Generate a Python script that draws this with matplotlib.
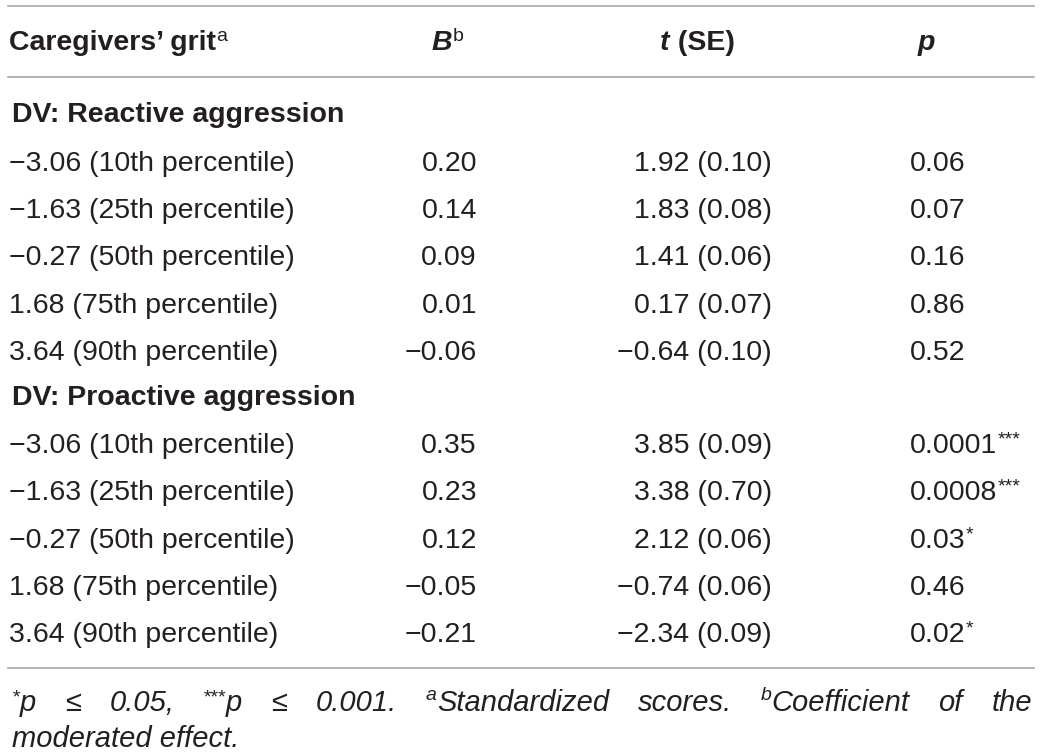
import matplotlib
matplotlib.use("Agg")
import matplotlib.pyplot as plt
from matplotlib.lines import Line2D

# ------------------------------------------------------------------
# Table data
# ------------------------------------------------------------------
grit_levels = [
    "−3.06 (10th percentile)",
    "−1.63 (25th percentile)",
    "−0.27 (50th percentile)",
    "1.68 (75th percentile)",
    "3.64 (90th percentile)",
]
sections = ["DV: Reactive aggression", "DV: Proactive aggression"]

reactive_b = [0.20, 0.14, 0.09, 0.01, -0.06]
reactive_t = [1.92, 1.83, 1.41, 0.17, -0.64]
reactive_se = [0.10, 0.08, 0.06, 0.07, 0.10]
reactive_p = ["0.06", "0.07", "0.16", "0.86", "0.52"]
reactive_sig = ["", "", "", "", ""]

proactive_b = [0.35, 0.23, 0.12, -0.05, -0.21]
proactive_t = [3.85, 3.38, 2.12, -0.74, -2.34]
proactive_se = [0.09, 0.70, 0.06, 0.06, 0.09]
proactive_p = ["0.0001", "0.0008", "0.03", "0.46", "0.02"]
proactive_sig = ["***", "***", "*", "", "*"]

W, H = 1040, 755
INK = "#231f20"
RULE = "#a6a6a6"

BODY = dict(family="Liberation Sans", size=20.5)
BOLD = dict(family="Liberation Sans", size=20.5, weight="bold")
BOLD_IT = dict(family="Liberation Sans", size=20.5, weight="bold", style="italic")
SUP = dict(family="Liberation Sans", size=14)
NOTE = dict(family=["Liberation Sans Narrow", "Liberation Sans"], size=21,
            style="italic")
NOTE_SUP = dict(family=["Liberation Sans Narrow", "Liberation Sans"], size=14,
                style="italic")

fig = plt.figure(figsize=(W / 100, H / 100), dpi=100)
renderer = fig.canvas.get_renderer()


def fmt(v):
    return f"{v:.2f}".replace("-", "−")


def make_runs(runs):
    items = []
    for s, style, rise in runs:
        t = fig.text(0, 0, s, va="baseline", ha="left", color=INK, **style)
        w = t.get_window_extent(renderer).width
        items.append((t, w, rise))
    return items


def place(items, x, y):
    for t, w, rise in items:
        t.set_position((x / W, 1 - (y - rise) / H))
        x += w
    return x


def draw_runs(x, y, runs, align="left"):
    items = make_runs(runs)
    total = sum(w for _, w, _ in items)
    if align == "right":
        x -= total
    place(items, x, y)


def hrule(y, x0=8, x1=1034):
    fig.add_artist(Line2D([x0 / W, x1 / W], [1 - y / H, 1 - y / H],
                          transform=fig.transFigure, color=RULE, lw=1.2))


# rules
hrule(6)
hrule(77)
hrule(668)

# header
header_y = 50
draw_runs(9, header_y, [("Caregivers’ grit", BOLD, 0), ("a", SUP, 9)])
draw_runs(432, header_y, [("B", BOLD_IT, 0), ("b", SUP, 9)])
draw_runs(660, header_y, [("t", BOLD_IT, 0), (" (SE)", BOLD, 0)])
draw_runs(918, header_y, [("p", BOLD_IT, 0)])

# body
LEFT = 9
B_RIGHT, T_RIGHT, P_LEFT = 477, 772, 910
section_rows = [
    (122, [171, 218, 265, 313, 360],
     reactive_b, reactive_t, reactive_se, reactive_p, reactive_sig),
    (405, [453, 500, 548, 595, 642],
     proactive_b, proactive_t, proactive_se, proactive_p, proactive_sig),
]
for title, (sec_y, row_ys, bs, ts, ses, ps, sigs) in zip(sections, section_rows):
    draw_runs(12, sec_y, [(title, BOLD, 0)])
    for label, y, b, t, se, p, sig in zip(grit_levels, row_ys, bs, ts, ses, ps, sigs):
        draw_runs(LEFT, y, [(label, BODY, 0)])
        draw_runs(B_RIGHT, y, [(fmt(b), BODY, 0)], align="right")
        draw_runs(T_RIGHT, y, [(f"{fmt(t)} ({fmt(se)})", BODY, 0)], align="right")
        runs = [(p, BODY, 0)]
        if sig:
            runs.append((sig, SUP, 9))
        draw_runs(P_LEFT, y, runs)

# footnote, first line justified
note_words = [
    [("*", NOTE_SUP, 9), ("p", NOTE, 0)],
    [("≤", NOTE, 0)],
    [("0.05,", NOTE, 0)],
    [("***", NOTE_SUP, 9), ("p", NOTE, 0)],
    [("≤", NOTE, 0)],
    [("0.001.", NOTE, 0)],
    [("a", NOTE_SUP, 11), ("Standardized", NOTE, 0)],
    [("scores.", NOTE, 0)],
    [("b", NOTE_SUP, 11), ("Coefficient", NOTE, 0)],
    [("of", NOTE, 0)],
    [("the", NOTE, 0)],
]
word_items = [make_runs(w) for w in note_words]
widths = [sum(w for _, w, _ in items) for items in word_items]
gap = (1032 - 12 - sum(widths)) / (len(widths) - 1)
x = 12
for items, w in zip(word_items, widths):
    place(items, x, 711)
    x += w + gap

draw_runs(12, 747, [("moderated effect.", NOTE, 0)])

fig.savefig("out.png", dpi=100)
